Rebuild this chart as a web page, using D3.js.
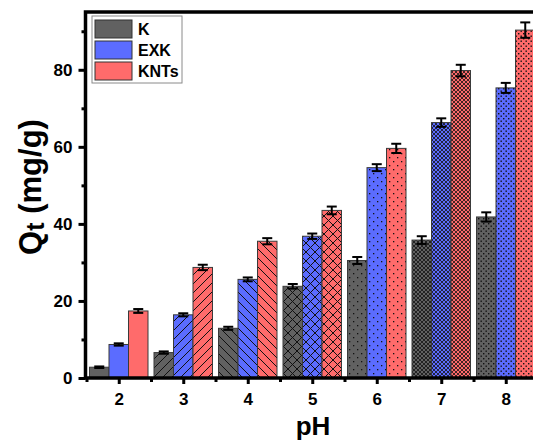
<!DOCTYPE html>
<html>
<head>
<meta charset="utf-8">
<script src="https://cdn.jsdelivr.net/npm/d3@7"></script>
<style>
  body { margin: 0; background: #fff; }
  svg { display: block; font-family: "Liberation Sans", Arial, sans-serif; }
</style>
</head>
<body>
<script>
// data
var ph     = [2, 3, 4, 5, 6, 7, 8];
var series = ["K", "EXK", "KNTs"];
var K      = [2.8, 6.6, 12.9, 23.8, 30.5, 35.8, 41.8];
var EXK    = [8.7, 16.4, 25.6, 36.8, 54.6, 66.3, 75.3];
var KNTs   = [17.4, 28.7, 35.5, 43.5, 59.6, 79.8, 90.3];
var errK    = [0.2, 0.3, 0.4, 0.6, 0.9, 1.0, 1.2];
var errEXK  = [0.3, 0.4, 0.5, 0.7, 0.9, 1.1, 1.3];
var errKNTs = [0.5, 0.7, 0.8, 1.0, 1.2, 1.5, 2.0];
var yTicks  = [0, 20, 40, 60, 80];

var colors   = ["#616161", "#5b6cff", "#ff6b6b"];
var fills    = ["none", "fwd", "back", "cross", "dots", "fine", "dense"];

var W = 533, H = 441;
var x = d3.scaleLinear().domain([1.5, 8.5]).range([86.5, 538]);
var y = d3.scaleLinear().domain([0, 95]).range([378, 12]);
var bw = 19.5;

var svg = d3.select("body").append("svg").attr("width", W).attr("height", H);
var defs = svg.append("defs");

function makePattern(id, color, type) {
  var s = {fwd: 9, back: 9, cross: 9, dots: 8, fine: 4, dense: 5}[type];
  var p = defs.append("pattern").attr("id", id)
    .attr("patternUnits", "userSpaceOnUse")
    .attr("width", s).attr("height", s);
  p.append("rect").attr("width", s).attr("height", s).attr("fill", color);
  var ln = function (x1, y1, x2, y2, w) {
    p.append("line").attr("x1", x1).attr("y1", y1).attr("x2", x2).attr("y2", y2)
      .attr("stroke", "#111").attr("stroke-width", w || 1);
  };
  if (type == "fwd" || type == "cross") { ln(0, s, s, 0); ln(-1, 1, 1, -1); ln(s - 1, s + 1, s + 1, s - 1); }
  if (type == "back" || type == "cross") { ln(0, 0, s, s); ln(-1, s - 1, 1, s + 1); ln(s - 1, -1, s + 1, 1); }
  if (type == "fine") { ln(0, 0, s, s, 0.8); ln(0, s, s, 0, 0.8); }
  if (type == "dots") {
    p.append("rect").attr("x", 1).attr("y", 1).attr("width", 1.3).attr("height", 1.3).attr("fill", "#111");
    p.append("rect").attr("x", 5).attr("y", 5).attr("width", 1.3).attr("height", 1.3).attr("fill", "#111");
  }
  if (type == "dense") {
    p.append("rect").attr("x", 0.5).attr("y", 0.5).attr("width", 1.4).attr("height", 1.4).attr("fill", "#111");
    p.append("rect").attr("x", 3).attr("y", 3).attr("width", 1.4).attr("height", 1.4).attr("fill", "#111");
  }
  return "url(#" + id + ")";
}

var vals = [K, EXK, KNTs], errs = [errK, errEXK, errKNTs];
var rows = [];
ph.forEach(function (p, i) {
  series.forEach(function (s, j) {
    var f = fills[i] == "none" ? colors[j] : makePattern("p" + i + "_" + j, colors[j], fills[i]);
    rows.push({ph: p, j: j, v: vals[j][i], e: errs[j][i], fill: f});
  });
});

var g = svg.append("g");
g.selectAll("rect.bar").data(rows).enter().append("rect")
  .attr("class", "bar")
  .attr("x", function (d) { return x(d.ph) + (d.j - 1.5) * bw; })
  .attr("y", function (d) { return y(d.v); })
  .attr("width", bw)
  .attr("height", function (d) { return y(0) - y(d.v); })
  .attr("fill", function (d) { return d.fill; })
  .attr("stroke", "#3a3a3a").attr("stroke-width", 1);

// error bars
var eb = g.selectAll("g.err").data(rows).enter().append("g")
  .attr("transform", function (d) { return "translate(" + (x(d.ph) + (d.j - 1) * bw) + ",0)"; });
eb.append("line").attr("y1", function (d) { return y(d.v - d.e); })
  .attr("y2", function (d) { return y(d.v + d.e); })
  .attr("stroke", "#000").attr("stroke-width", 2);
[1, -1].forEach(function (sg) {
  eb.append("line").attr("x1", -5).attr("x2", 5)
    .attr("y1", function (d) { return y(d.v + sg * d.e); })
    .attr("y2", function (d) { return y(d.v + sg * d.e); })
    .attr("stroke", "#000").attr("stroke-width", 2);
});

// axes
var ax = svg.append("g").attr("font-weight", "bold");
var yAx = ax.append("g").attr("transform", "translate(85.5,0)")
  .call(d3.axisLeft(y).tickValues(yTicks).tickSize(7).tickPadding(6));
yAx.append("g").call(d3.axisLeft(y).tickValues([10, 30, 50, 70, 90]).tickSize(4).tickFormat(""));
var xAx = ax.append("g").attr("transform", "translate(0,378)")
  .call(d3.axisBottom(x).tickValues(ph).tickSize(6).tickPadding(9).tickFormat(d3.format("d")));
xAx.append("g").call(d3.axisBottom(x).tickValues([1.5, 2.5, 3.5, 4.5, 5.5, 6.5, 7.5]).tickSize(4).tickFormat(""));
ax.selectAll(".domain").remove();
ax.selectAll(".tick line").attr("stroke", "#000").attr("stroke-width", 3);
ax.selectAll(".tick text").attr("font-size", 17).attr("fill", "#000");

// frame
svg.append("path").attr("d", "M85.5,378H540M85.5,379.5V12H540")
  .attr("fill", "none").attr("stroke", "#000").attr("stroke-width", 3.5);

// labels
var yl = svg.append("text").attr("transform", "translate(41,187) rotate(-90)")
  .attr("text-anchor", "middle").attr("font-size", 31).attr("font-weight", "bold");
yl.append("tspan").text("Q");
yl.append("tspan").text("t").attr("font-size", 25).attr("dy", 3);
yl.append("tspan").text(" (mg/g)").attr("dy", -3);

svg.append("text").attr("x", 313).attr("y", 435).attr("text-anchor", "middle")
  .attr("font-size", 26).attr("font-weight", "bold").text("pH");

// legend
var lg = svg.append("g").attr("transform", "translate(92,16)");
lg.append("rect").attr("width", 90).attr("height", 67).attr("fill", "#fff")
  .attr("stroke", "#8a8a8a").attr("stroke-width", 1);
var li = lg.selectAll("g.li").data(series).enter().append("g")
  .attr("transform", function (d, i) { return "translate(3," + (4 + i * 21) + ")"; });
li.append("rect").attr("width", 37).attr("height", 18)
  .attr("fill", function (d, i) { return colors[i]; })
  .attr("stroke", "#333").attr("stroke-width", 1);
li.append("text").attr("x", 43).attr("y", 15).attr("font-size", 16)
  .attr("font-weight", "bold").text(function (d) { return d; });
</script>
</body>
</html>
